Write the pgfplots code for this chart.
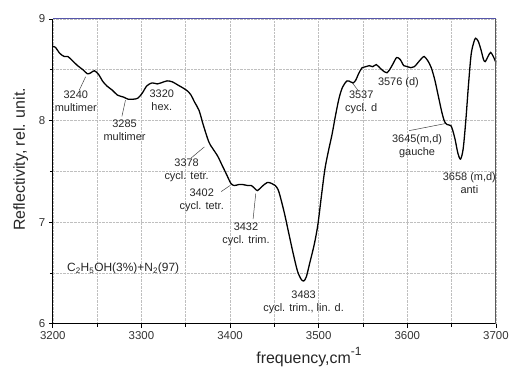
\documentclass[border=0pt]{standalone}
\usepackage{fontspec}
\setmainfont{Liberation Sans}
\usepackage{pgfplots}
\pgfplotsset{compat=1.18}
\begin{document}
\begin{tikzpicture}
\begin{axis}[
  at={(0pt,0pt)}, anchor=south west,
  scale only axis, width=445pt, height=306pt,
  xmin=3200, xmax=3700, ymin=6, ymax=9,
  xtick={3200,3300,...,3700}, ytick={6,7,8,9},
  minor xtick={3250,3350,...,3650}, minor ytick={6.5,7.5,8.5},
  axis x line*=bottom, axis y line*=left,
  axis line style={line width=0.9pt, black, -},
  tick align=outside, tick style={black, line width=0.7pt},
  major tick length=4pt, minor tick length=3pt,
  grid=both,
  major grid style={densely dotted, gray!50, line width=0.5pt},
  minor grid style={densely dotted, gray!50, line width=0.5pt},
  /pgf/number format/assume math mode=true,
  /pgf/number format/1000 sep={},
  tick label style={font=\fontsize{11.5}{12}\selectfont, text=black!80},
  ylabel={Reflectivity, rel. unit.},
  ylabel style={at={(axis description cs:-0.072,0.539)}, anchor=center, font=\fontsize{16}{18}\selectfont, text=black!85},
  xlabel={frequency,cm\raisebox{0.5em}{\fontsize{12}{12}\selectfont -1}},
  xlabel style={at={(axis description cs:0.578,-0.13)}, anchor=base, font=\fontsize{16}{18}\selectfont, text=black!85},
  clip=false,
]
\addplot[black, line width=1.3pt, smooth, tension=0.5] coordinates {
(3200,8.73) (3203,8.72) (3208,8.66) (3213,8.63) (3217,8.63) (3222,8.59)
(3228,8.54) (3234,8.50) (3239,8.46) (3243,8.47) (3247,8.49) (3252,8.45)
(3256,8.39) (3261,8.34) (3267,8.30) (3273,8.25) (3280,8.23) (3285,8.21)
(3291,8.21) (3296,8.22) (3301,8.27) (3306,8.34) (3312,8.37) (3318,8.36)
(3322,8.37) (3329,8.39) (3335,8.38) (3341,8.35) (3347,8.32) (3352,8.29)
(3356,8.25) (3360,8.18) (3365,8.10) (3370,7.95) (3376,7.79) (3380,7.73)
(3386,7.65) (3391,7.56) (3396,7.47) (3401,7.38) (3405,7.36) (3410,7.37)
(3414,7.37) (3420,7.36) (3424,7.36) (3428,7.33) (3431,7.31) (3436,7.35)
(3442,7.39) (3447,7.38) (3451,7.36) (3455,7.30) (3461,7.10) (3466,6.90)
(3471,6.70) (3476,6.52) (3480,6.44) (3483,6.42) (3486,6.46) (3490,6.60)
(3495,6.78) (3499,6.97) (3503,7.25) (3507,7.52) (3511,7.70) (3515,7.86)
(3519,8.05) (3523,8.22) (3527,8.33) (3532,8.39) (3536,8.38) (3539,8.37)
(3542,8.40) (3545,8.46) (3549,8.52) (3553,8.53) (3557,8.54) (3561,8.53)
(3565,8.55) (3570,8.51) (3574,8.48) (3577,8.47) (3580,8.50) (3584,8.56)
(3588,8.62) (3592,8.60) (3596,8.54) (3600,8.53) (3604,8.52) (3608,8.53)
(3612,8.57) (3616,8.61) (3619,8.63) (3623,8.59) (3627,8.52) (3631,8.40)
(3635,8.24) (3639,8.08) (3642,7.99) (3645,7.96) (3649,7.95) (3651,7.91)
(3654,7.81) (3657,7.68) (3660,7.62) (3663,7.72) (3666,8.00) (3669,8.35)
(3672,8.65) (3675,8.77) (3677,8.81) (3680,8.78) (3683,8.70) (3686,8.60)
(3688,8.58) (3691,8.63) (3694,8.67) (3697,8.63) (3700,8.57)
};
% axis frame top and right
\draw[color={rgb,255:red,85;green,85;blue,170}, line width=1pt] (rel axis cs:0,1) -- (rel axis cs:1,1);
\draw[gray!70!black, line width=1pt] (rel axis cs:1,0) -- (rel axis cs:1,1);
% annotations
\begin{scope}[every node/.style={font=\fontsize{11}{12}\selectfont, align=center, text=black!85, inner sep=0pt}]
\node at (axis cs:3226,8.19) {3240\\[1pt]multimer};
\draw[black!75, line width=0.5pt] (axis cs:3237,8.43) -- (axis cs:3230,8.30);
\node at (axis cs:3281,7.90) {3285\\[1pt]multimer};
\draw[black!75, line width=0.5pt] (axis cs:3282,8.20) -- (axis cs:3278,8.04);
\node at (axis cs:3323,8.20) {3320\\[1pt]hex.};
\node at (axis cs:3351,7.51) {3378\\[1pt]cycl. tetr.};
\draw[black!75, line width=0.5pt] (axis cs:3371,7.74) -- (axis cs:3356,7.63);
\node at (axis cs:3368,7.21) {3402\\[1pt]cycl. tetr.};
\draw[black!75, line width=0.5pt] (axis cs:3400,7.36) -- (axis cs:3390,7.30);
\node at (axis cs:3418,6.88) {3432\\[1pt]cycl. trim.};
\draw[black!75, line width=0.5pt] (axis cs:3429,7.28) -- (axis cs:3426,7.03);
\node at (axis cs:3483,6.21) {3483\\[1pt]cycl. trim., lin. d.};
\node at (axis cs:3548,8.18) {3537\\[1pt]cycl. d};
\draw[black!75, line width=0.5pt] (axis cs:3538,8.37) -- (axis cs:3545,8.29);
\node at (axis cs:3590,8.37) {3576 (d)};
\node at (axis cs:3611,7.75) {3645(m,d)\\[1pt]gauche};
\draw[black!75, line width=0.5pt] (axis cs:3643,7.97) -- (axis cs:3602,7.90);
\node at (axis cs:3670,7.38) {3658 (m,d)\\[1pt]anti};
\node[anchor=west, font=\fontsize{12}{13}\selectfont] at (axis cs:3216,6.54) {C\textsubscript{2}H\textsubscript{5}OH(3\%)+N\textsubscript{2}(97)};
\end{scope}
\end{axis}
\path[use as bounding box] (-53pt,-33pt) rectangle (459pt,325pt);
\end{tikzpicture}
\end{document}
